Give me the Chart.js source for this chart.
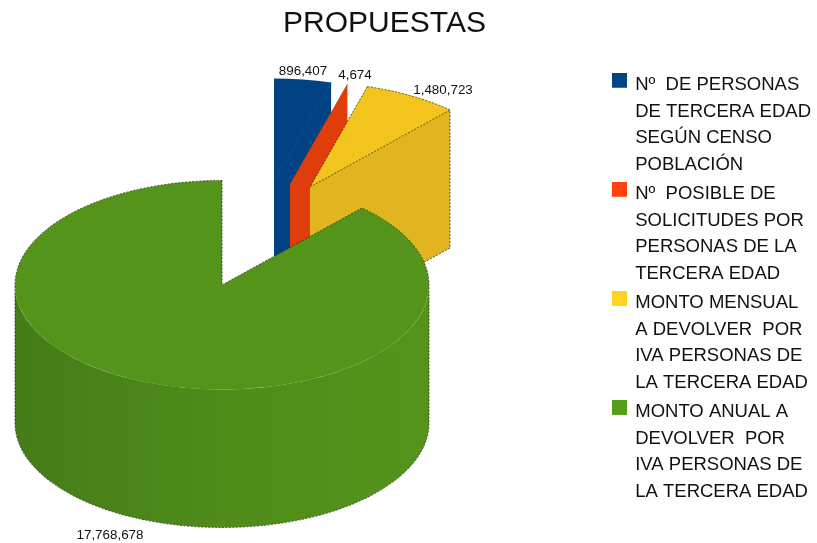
<!DOCTYPE html>
<html>
<head>
<meta charset="utf-8">
<style>
  body { margin: 0; background: #fff; }
  canvas { display: block; }
</style>
</head>
<body>
<canvas id="propuestasChart" width="817" height="543"></canvas>
<script src="https://cdn.jsdelivr.net/npm/chart.js@4"></script>
<script>
// DATA
var categories = [
  ["Nº  DE PERSONAS", "DE TERCERA EDAD", "SEGÚN CENSO", "POBLACIÓN"],
  ["Nº  POSIBLE DE", "SOLICITUDES POR", "PERSONAS DE LA", "TERCERA EDAD"],
  ["MONTO MENSUAL", "A DEVOLVER  POR", "IVA PERSONAS DE", "LA TERCERA EDAD"],
  ["MONTO ANUAL A", "DEVOLVER  POR", "IVA PERSONAS DE", "LA TERCERA EDAD"]
];
var yValues = [896407, 4674, 1480723, 17768678];

// COLOURS
var legendColors = ["#004586", "#ff420e", "#ffd320", "#579d1c"];
var topColors = ["#004283", "#dd3c0e", "#f4c41e", "#55941b"];
var wallColors = ["#004283", "#e03c0c", "#e0b51f", null];

// 3D LOOK (the pie is squashed and pushed down with a canvas transform)
var pieX = 222, pieY = 285, pieR = 207;
var squash = 0.505, depth = 138;
var explode = [[52, -102], [68, -100], [88, -98], [0, 0]];
var outlined = [false, false, true, true];
var valueLabelPos = [[303, 71], [355, 75], [443, 90], [110, 535]];

// legend square sits a bit above the text line, so it is its own little canvas
function legendSquare(color) {
  var c = document.createElement("canvas");
  c.width = 15;
  c.height = 25;
  var g = c.getContext("2d");
  g.fillStyle = color;
  g.fillRect(0, 0, 15, 15);
  return c;
}

var pie3d = {
  id: "pie3d",
  afterLayout: function (chart) {
    // title is centred left of the page middle in the original
    var mid = (chart.titleBlock.left + chart.titleBlock.right) / 2;
    chart.titleBlock.left -= mid - 384.5;
    chart.titleBlock.right -= mid - 384.5;
  },
  beforeDatasetsDraw: function (chart) {
    var ctx = chart.ctx;
    var arcs = chart.getDatasetMeta(0).data;

    arcs.forEach(function (arc, i) {
      var k = pieR / arc.outerRadius;
      var cx = pieX + explode[i][0];
      var cy = pieY + explode[i][1];
      var rx = arc.outerRadius * k;
      var ry = rx * squash;
      var a0 = arc.startAngle;
      var a1 = arc.endAngle;

      function rim(a) {
        return [cx + rx * Math.cos(a), cy + ry * Math.sin(a)];
      }
      function cutWall(a) {
        var p = rim(a);
        ctx.beginPath();
        ctx.moveTo(cx, cy);
        ctx.lineTo(p[0], p[1]);
        ctx.lineTo(p[0], p[1] + depth);
        ctx.lineTo(cx, cy + depth);
        ctx.closePath();
        ctx.fill();
      }

      var wallFill = wallColors[i];
      if (!wallFill) {
        wallFill = ctx.createLinearGradient(pieX - pieR, 0, pieX + pieR, 0);
        wallFill.addColorStop(0, "#447c18");
        wallFill.addColorStop(0.5, "#4f8c1a");
        wallFill.addColorStop(1, "#54941b");
      }
      ctx.fillStyle = wallFill;

      // side walls of the cut, only those turned to the viewer
      if (Math.cos(a0) < -0.001) cutWall(a0);
      if (Math.cos(a1) > 0.001) cutWall(a1);

      // round wall, front half of the ellipse only
      var w0 = Math.max(a0, 0);
      var w1 = Math.min(a1, Math.PI);
      if (w1 > w0) {
        ctx.beginPath();
        ctx.ellipse(cx, cy, rx, ry, 0, w0, w1);
        ctx.ellipse(cx, cy + depth, rx, ry, 0, w1, w0, true);
        ctx.closePath();
        ctx.fill();
      }

      // top face is the library's own arc
      ctx.save();
      ctx.translate(cx, cy);
      ctx.scale(k, k * squash);
      ctx.translate(-arc.x, -arc.y);
      arc.draw(ctx);
      ctx.restore();

      // close the white seam between top face and wall
      if (wallColors[i]) {
        var seam = rim(a1);
        ctx.save();
        ctx.strokeStyle = topColors[i];
        ctx.lineWidth = 1;
        ctx.beginPath();
        ctx.moveTo(cx, cy);
        ctx.lineTo(seam[0], seam[1]);
        ctx.stroke();
        ctx.restore();
      }

      // rough dark edge around the big slices
      if (outlined[i]) {
        ctx.save();
        ctx.strokeStyle = "rgba(35,45,10,0.75)";
        ctx.lineWidth = 1;
        ctx.setLineDash([2, 1.5]);
        ctx.beginPath();
        var s = rim(a0), e = rim(a1);
        ctx.moveTo(s[0], s[1]);
        ctx.lineTo(cx, cy);
        ctx.lineTo(e[0], e[1]);
        // back part of the rim
        if (a1 > Math.PI) {
          ctx.moveTo(e[0], e[1]);
          ctx.ellipse(cx, cy, rx, ry, 0, a1, Math.PI, true);
          ctx.lineTo(cx - rx, cy + depth);
          ctx.ellipse(cx, cy + depth, rx, ry, 0, Math.PI, 0, true);
          ctx.lineTo(cx + rx, cy);
          ctx.ellipse(cx, cy, rx, ry, 0, 0, a0, true);
        } else {
          ctx.moveTo(s[0], s[1]);
          ctx.ellipse(cx, cy, rx, ry, 0, a0, a1);
          ctx.lineTo(e[0], e[1] + depth);
          ctx.lineTo(cx, cy + depth);
        }
        ctx.stroke();
        ctx.restore();
      }
    });

    // value labels
    ctx.save();
    ctx.font = "13.4px 'Liberation Sans'";
    ctx.fillStyle = "#111";
    ctx.textAlign = "center";
    ctx.textBaseline = "middle";
    yValues.forEach(function (v, i) {
      ctx.fillText(v.toLocaleString("en-US"), valueLabelPos[i][0], valueLabelPos[i][1]);
    });
    ctx.restore();

    return false; // arcs are already drawn
  }
};

new Chart("propuestasChart", {
  type: "pie",
  data: {
    labels: categories,
    datasets: [{
      backgroundColor: topColors,
      borderWidth: 0,
      data: yValues
    }]
  },
  options: {
    responsive: false,
    animation: false,
    layout: { padding: { right: -4 } },
    plugins: {
      title: {
        display: true,
        text: "PROPUESTAS",
        color: "#111",
        font: { family: "'Liberation Sans'", size: 30, weight: "normal", lineHeight: 1.2 },
        padding: { top: 6, bottom: 31 }
      },
      legend: {
        position: "right",
        align: "start",
        fullSize: false,
        labels: {
          color: "#111",
          usePointStyle: true,
          boxWidth: 13,
          boxHeight: 13,
          padding: 3,
          font: { family: "'Liberation Sans'", size: 18.5, lineHeight: 1.433 },
          generateLabels: function (chart) {
            var items = Chart.overrides.pie.plugins.legend.labels.generateLabels(chart);
            items.forEach(function (it, i) { it.pointStyle = legendSquare(legendColors[i]); });
            return items;
          }
        }
      },
      tooltip: { enabled: false }
    }
  },
  plugins: [pie3d]
});
</script>
</body>
</html>
